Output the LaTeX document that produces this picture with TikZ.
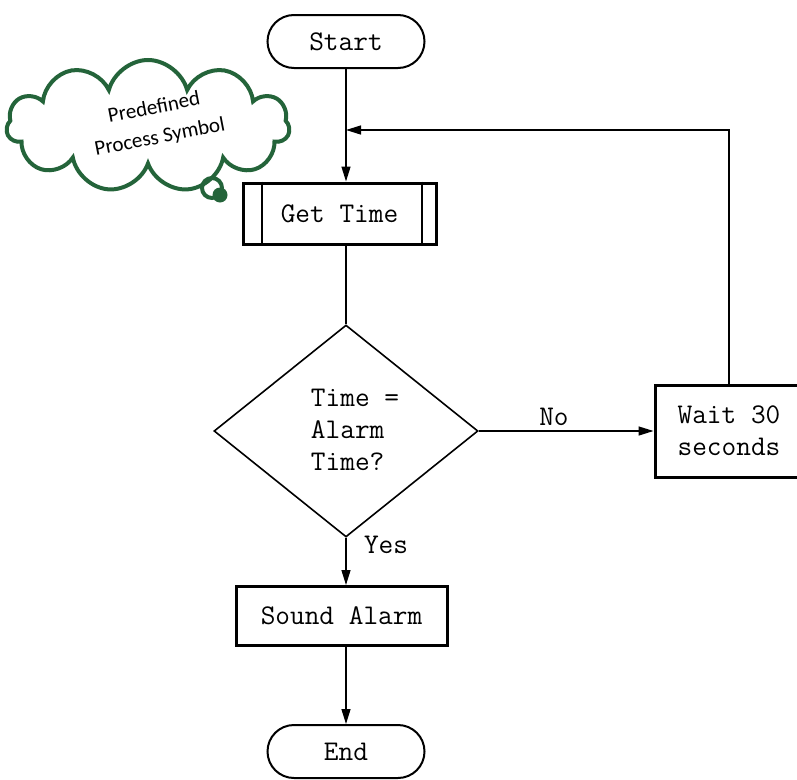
\documentclass[tikz,border=0pt]{standalone}
\usepackage{fontspec}
\newfontfamily\calibri{Carlito}
\usetikzlibrary{shapes.geometric,shapes.misc,shapes.symbols,arrows.meta}
\definecolor{cloudgreen}{RGB}{36,100,58}

\begin{document}
\begin{tikzpicture}[x=1pt,y=-1pt,
  every node/.style={font=\fontsize{28.5}{32}\selectfont\ttfamily},
  terminal/.style={draw,rounded rectangle,line width=2pt,minimum width=157pt,minimum height=53pt,inner sep=0pt},
  process/.style={draw,rectangle,line width=3pt,inner sep=0pt,align=left},
  decision/.style={draw,diamond,line width=1.6pt,minimum width=264pt,minimum height=212pt,inner sep=0pt,align=left},
  flow/.style={line width=1.4pt,-{Triangle[length=15pt,width=9pt]}},
  plain/.style={line width=1.4pt}]
\useasboundingbox (0,0) rectangle (797,779);
\node[terminal] (start) at (346,41.5) {Start};
\node[process,minimum width=193pt,minimum height=61pt] (gettime) at (339.5,213.5) {Get Time};
\draw[line width=2pt] ([xshift=20pt]gettime.north west) -- ([xshift=20pt]gettime.south west);
\draw[line width=2pt] ([xshift=-16pt]gettime.north east) -- ([xshift=-16pt]gettime.south east);
\node[decision] (check) at (346,431) {};
\node[align=left,inner sep=0pt] (checktext) at (355,430) {Time =\\Alarm\\Time?};
\node[process,minimum width=148pt,minimum height=92pt] (wait) at (729,431) {Wait 30\\seconds};
\node[process,minimum width=211pt,minimum height=59pt] (sound) at (341.5,616) {Sound Alarm};
\node[terminal] (end) at (346,751.5) {End};
\coordinate (loop) at (346,130);
\draw[flow] (start) -- (start |- gettime.north);
\draw[plain] (check.north |- gettime.south) -- (check.north);
\draw[flow] (check.east) -- node[above,pos=0.43,inner sep=5pt] {No} (wait.west);
\draw[flow] (check.south) -- node[right,pos=0.15,xshift=14pt] {Yes} (check.south |- sound.north);
\draw[flow] (end.north |- sound.south) -- (end.north);
\draw[flow] (wait.north) |- (loop);
% thought bubble
\node[cloud,draw=cloudgreen,fill=white,line width=4pt,cloud puffs=11,aspect=2.1,minimum width=283pt,minimum height=132pt] (bubble) at (148,126) {};
\node[rotate=11,font=\fontsize{21}{30}\selectfont\calibri,align=center] (bubbletext) at (157,123) {Predefined\\Process Symbol};
\node[circle,draw=cloudgreen,line width=4pt,minimum size=20pt,inner sep=0pt] (puff) at (212,188) {};
\node[circle,fill=cloudgreen,minimum size=15pt,inner sep=0pt] (puffdot) at (220,195) {};
\end{tikzpicture}
\end{document}
